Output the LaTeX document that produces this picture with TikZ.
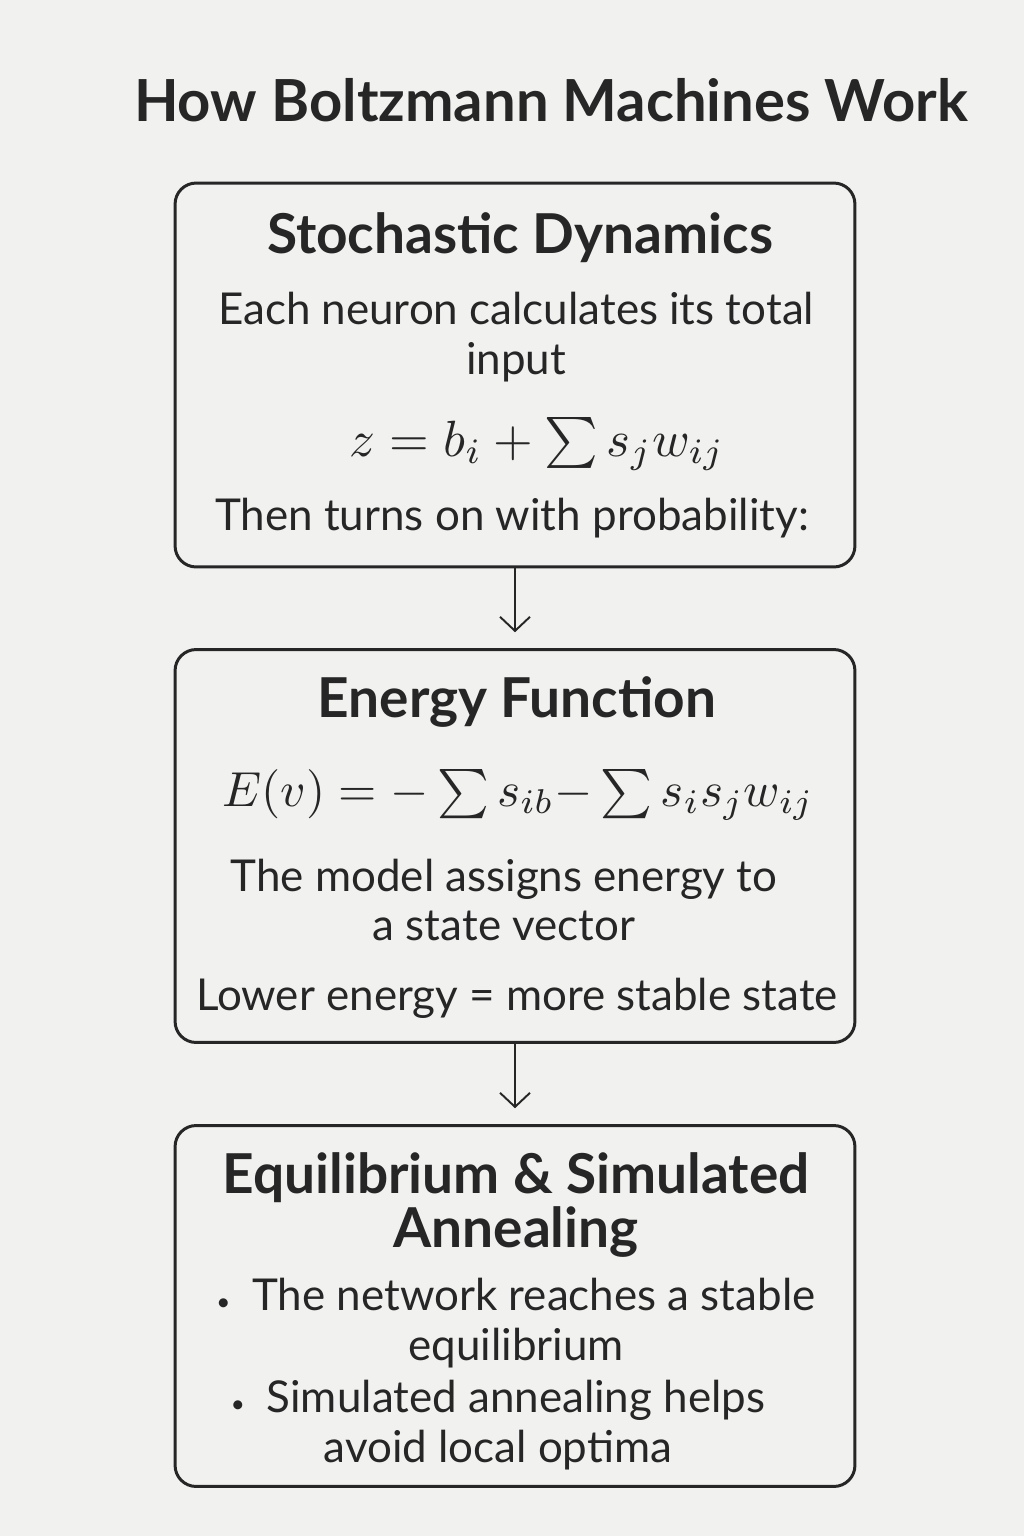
\documentclass[tikz,border=0pt]{standalone}
\usepackage{amsmath}
\usepackage{fontspec}
\setmainfont{Lato}
\usetikzlibrary{arrows.meta}
\definecolor{paper}{HTML}{F1F1F0}
\definecolor{ink}{HTML}{262626}
\newcommand{\bigmath}[2]{\scalebox{#1}{$#2$}}
\newcommand{\dotitem}{\scalebox{0.55}{\textbullet}\enspace}
\begin{document}
\begin{tikzpicture}
[x=0.02cm,y=-0.02cm,
  boxDecorate/.style={draw=ink,line width=1.7pt,rounded corners=12pt,minimum width=13.6cm,inner sep=0pt},%
  arrowDecorate/.style={draw=ink,line width=1.1pt,-{Straight Barb[length=8pt,width=17pt,line width=1.1pt]},shorten >=9pt},%
  titleDecorate/.style={text=ink,font=\fontsize{33}{38}\selectfont\bfseries,inner sep=0pt},%
  headDecorate/.style={text=ink,align=center,font=\fontsize{31.3}{31.2}\selectfont\bfseries,inner sep=0pt},%
  textDecorate/.style={text=ink,align=center,font=\fontsize{25}{28.3}\selectfont,inner sep=0pt},%
  mathDecorate/.style={text=ink,anchor=base,text height=16pt,text depth=6pt,inner sep=0pt}]
%% page
\fill[paper] (0,0) rectangle (1024,1536);
\useasboundingbox (0,0) rectangle (1024,1536);
\node[titleDecorate] (title) at (551,100) {How Boltzmann Machines Work};
%% boxes
\node[boxDecorate,minimum height=7.68cm] (stoch) at (515,375) {};
\node[boxDecorate,minimum height=7.86cm] (energy) at (515,846) {};
\node[boxDecorate,minimum height=7.22cm] (equil) at (515,1306) {};
%% headings
\foreach \nodename/\x/\y/\label in {
  stochHead/520/238/Stochastic Dynamics, energyHead/517/702/Energy Function,
  equilHead/516/1205/Equilibrium \& Simulated\\Annealing}
{
  \node[headDecorate] (\nodename) at (\x,\y) {\label};
}
%% body lines
\foreach \nodename/\x/\y/\label in {
  stochA/516/337/Each neuron calculates its total\\input,
  stochB/512/518/Then turns on with probability:,
  energyA/504/900/The model assigns energy to\\a state vector,
  energyB/517/998/Lower energy = more stable state,
  equilA/516/1323/\dotitem The network reaches a stable\\equilibrium,
  equilB/498/1425/\dotitem Simulated annealing helps\\avoid local optima}
{
  \node[textDecorate] (\nodename) at (\x,\y) {\label};
}
%% formulas
\node[mathDecorate] (stochMath) at (537,456) {\bigmath{2.9}{z = b_i + \sum s_j w_{ij}}};
\node[mathDecorate] (energyMath) at (518,806) {\bigmath{2.8}{E(v) = -\sum s_{ib}{-}\sum s_i s_j w_{ij}}};
%% connectors
\draw[arrowDecorate] (stoch.south) -- (energy.north);
\draw[arrowDecorate] (energy.south) -- (equil.north);
\end{tikzpicture}
\end{document}
